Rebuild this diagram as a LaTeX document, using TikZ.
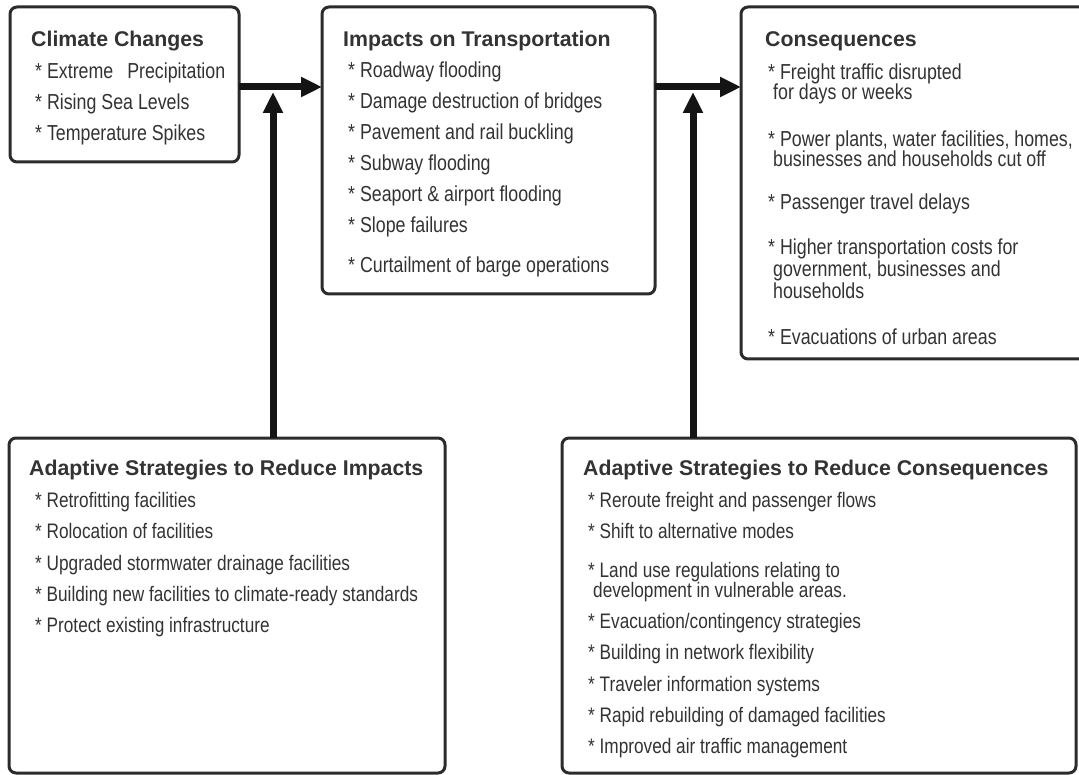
\documentclass[tikz,border=0pt]{standalone}
\usepackage{fontspec}
\setmainfont{Liberation Sans}
\newfontfamily\narrowfont[FakeStretch=0.82]{Liberation Sans}
\usetikzlibrary{arrows.meta}
\definecolor{ink}{HTML}{333333}
\definecolor{edge}{HTML}{2B2B2B}
\begin{document}
\begin{tikzpicture}[x=1pt,y=-1pt,
  panel/.style={draw=edge, line width=3pt, rounded corners=7pt, fill=white,
    inner sep=0pt, outer sep=0pt, anchor=north west},
  heading/.style={anchor=base west, inner sep=0pt,
    font=\fontsize{21.3}{24}\selectfont\bfseries, text=ink},
  item/.style={anchor=base west, inner sep=0pt,
    font=\fontsize{21}{24}\narrowfont, text=ink},
  topitem/.style={item, font=\fontsize{21.7}{24}\narrowfont},
  flow/.style={line width=7pt, draw=black!92,
    -{Triangle[length=21pt,width=19pt]}}]

\clip (0,0) rectangle (1079,775);

% panels
\node[panel, minimum width=229pt, minimum height=155pt] (cc) at (10,7) {};
\node[panel, minimum width=333pt, minimum height=287pt] (it) at (322,7) {};
\node[panel, minimum width=360pt, minimum height=352pt] (cq) at (741,7) {};
\node[panel, minimum width=436pt, minimum height=335pt] (ai) at (9,438) {};
\node[panel, minimum width=514pt, minimum height=335pt] (ac) at (562,438) {};

% Climate Changes
\node[heading] (cct) at (31,47) {Climate Changes};
\node[topitem] (cc1) at (35,79) {* Extreme\hspace{14pt}Precipitation};
\node[topitem] (cc2) at (35,110) {* Rising Sea Levels};
\node[topitem] (cc3) at (35,141) {* Temperature Spikes};

% Impacts on Transportation
\node[heading] (itt) at (343,47) {Impacts on Transportation};
\node[topitem] (it1) at (348,78) {* Roadway flooding};
\node[topitem] (it2) at (348,109) {* Damage destruction of bridges};
\node[topitem] (it3) at (348,140) {* Pavement and rail buckling};
\node[topitem] (it4) at (348,171) {* Subway flooding};
\node[topitem] (it5) at (348,202) {* Seaport \& airport flooding};
\node[topitem] (it6) at (348,233) {* Slope failures};
\node[topitem] (it7) at (348,273) {* Curtailment of barge operations};

% Consequences
\node[heading] (cqt) at (765,47) {Consequences};
\node[topitem] (cq1) at (768,80) {* Freight traffic disrupted};
\node[topitem] (cq1b) at (773,100) {for days or weeks};
\node[topitem] (cq2) at (768,147) {* Power plants, water facilities, homes,};
\node[topitem] (cq2b) at (773,167) {businesses and households cut off};
\node[topitem] (cq3) at (768,210) {* Passenger travel delays};
\node[topitem] (cq4) at (768,255) {* Higher transportation costs for};
\node[topitem] (cq4b) at (773,277) {government, businesses and};
\node[topitem] (cq4c) at (773,299) {households};
\node[topitem] (cq5) at (768,345) {* Evacuations of urban areas};

% Adaptive Strategies to Reduce Impacts
\node[heading] (ait) at (29,475) {Adaptive Strategies to Reduce Impacts};
\node[item] (ai1) at (35,507) {* Retrofitting facilities};
\node[item] (ai2) at (35,538) {* Rolocation of facilities};
\node[item] (ai3) at (35,570) {* Upgraded stormwater drainage facilities};
\node[item] (ai4) at (35,601) {* Building new facilities to climate-ready standards};
\node[item] (ai5) at (35,632) {* Protect existing infrastructure};

% Adaptive Strategies to Reduce Consequences
\node[heading] (act) at (583,475) {Adaptive Strategies to Reduce Consequences};
\node[item] (ac1) at (588,507) {* Reroute freight and passenger flows};
\node[item] (ac2) at (588,538) {* Shift to alternative modes};
\node[item] (ac3) at (588,577) {* Land use regulations relating to};
\node[item] (ac3b) at (593,597) {development in vulnerable areas.};
\node[item] (ac4) at (588,628) {* Evacuation/contingency strategies};
\node[item] (ac5) at (588,659) {* Building in network flexibility};
\node[item] (ac6) at (588,691) {* Traveler information systems};
\node[item] (ac7) at (588,722) {* Rapid rebuilding of damaged facilities};
\node[item] (ac8) at (588,753) {* Improved air traffic management};

% flow arrows
\coordinate (row) at (0,87);
\coordinate (j1) at (273,92);
\coordinate (j2) at (693,92);
\draw[flow] (cc.east |- row) -- (it.west |- row);
\draw[flow] (it.east |- row) -- (cq.west |- row);
\draw[flow] (ai.north -| j1) -- (j1);
\draw[flow] (ac.north -| j2) -- (j2);
\end{tikzpicture}
\end{document}
